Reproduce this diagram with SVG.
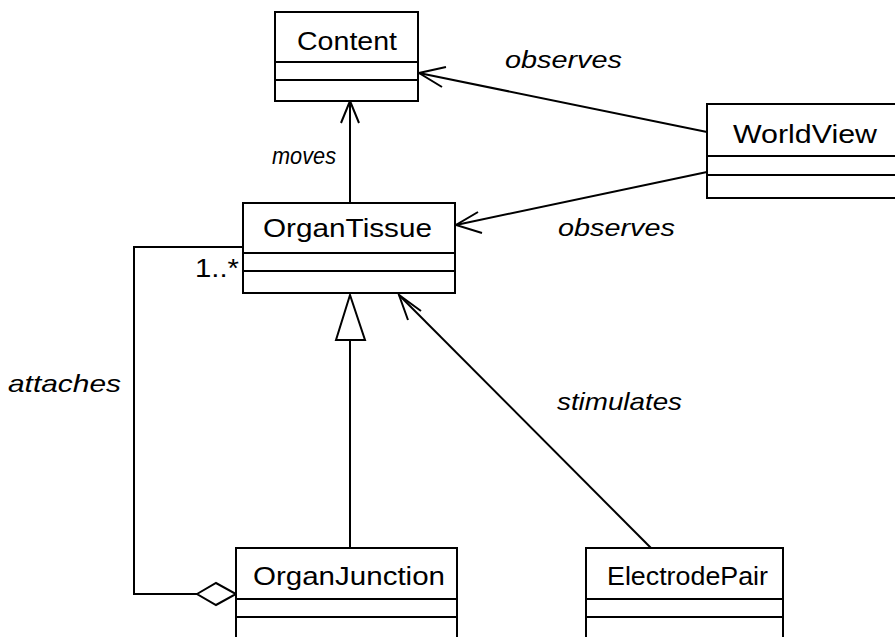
<svg xmlns="http://www.w3.org/2000/svg" width="895" height="637" viewBox="0 0 895 637">
  <style>
    .box { fill: #fff; stroke: #000; stroke-width: 2; }
    .div { stroke: #000; stroke-width: 2; }
    .name { font-family: "Liberation Sans", Arial, sans-serif; font-size: 25px; fill: #000; text-anchor: start; }
    .lbl { font-family: "Liberation Sans", Arial, sans-serif; font-size: 24px; font-style: italic; fill: #000; }
    .edge { fill: none; stroke: #000; stroke-width: 2; }
    .head { fill: none; stroke: #000; stroke-width: 2; stroke-linejoin: miter; }
  </style>
  <rect width="895" height="637" fill="#fff"/>

  <g id="connectors">
    <!-- OrganTissue moves Content -->
    <line class="edge" x1="350" y1="203" x2="350" y2="101"/>
    <polyline class="head" points="341,123 350,101 359,123"/>
    <!-- WorldView observes Content -->
    <line class="edge" x1="707" y1="132" x2="419" y2="73"/>
    <polyline class="head" points="446,67 419,73 442,87"/>
    <!-- WorldView observes OrganTissue -->
    <line class="edge" x1="707" y1="172" x2="456" y2="225"/>
    <polyline class="head" points="478,212 456,225 482,233"/>
    <!-- ElectrodePair stimulates OrganTissue -->
    <line class="edge" x1="651" y1="548" x2="399" y2="295"/>
    <polyline class="head" points="421,311 399,295 408,320"/>
    <!-- OrganJunction generalises OrganTissue -->
    <line class="edge" x1="350" y1="548" x2="350" y2="340"/>
    <polygon class="head" points="350,295 336,340 365,340" fill="#fff"/>
    <!-- OrganJunction aggregates OrganTissue -->
    <polyline class="edge" points="243,247 134,247 134,594 197,594"/>
    <polygon class="head" points="197,594 216,583 236,594 216,605" fill="#fff"/>
    <!-- labels -->
    <text class="lbl" x="505" y="68" textLength="117" lengthAdjust="spacingAndGlyphs">observes</text>
    <text class="lbl" x="558" y="236" textLength="117" lengthAdjust="spacingAndGlyphs">observes</text>
    <text class="lbl" x="272" y="164" textLength="64" lengthAdjust="spacingAndGlyphs">moves</text>
    <text class="lbl" x="8" y="392" textLength="113" lengthAdjust="spacingAndGlyphs">attaches</text>
    <text class="lbl" x="557" y="410" textLength="125" lengthAdjust="spacingAndGlyphs">stimulates</text>
    <text class="name" x="195" y="277" textLength="44" lengthAdjust="spacingAndGlyphs" font-size="24">1..*</text>
  </g>

  <g id="Content">
    <rect class="box" x="275" y="12" width="143" height="89"/>
    <line class="div" x1="275" y1="62" x2="418" y2="62"/>
    <line class="div" x1="275" y1="80" x2="418" y2="80"/>
    <text class="name" x="297" y="50" textLength="100" lengthAdjust="spacingAndGlyphs">Content</text>
  </g>

  <g id="WorldView">
    <rect class="box" x="707" y="104" width="200" height="94"/>
    <line class="div" x1="707" y1="156" x2="907" y2="156"/>
    <line class="div" x1="707" y1="175" x2="907" y2="175"/>
    <text class="name" x="733" y="143" textLength="144" lengthAdjust="spacingAndGlyphs">WorldView</text>
  </g>

  <g id="OrganTissue">
    <rect class="box" x="243" y="203" width="212" height="90"/>
    <line class="div" x1="243" y1="253" x2="455" y2="253"/>
    <line class="div" x1="243" y1="271" x2="455" y2="271"/>
    <text class="name" x="263" y="237" textLength="169" lengthAdjust="spacingAndGlyphs">OrganTissue</text>
  </g>

  <g id="OrganJunction">
    <rect class="box" x="236" y="548" width="221" height="100"/>
    <line class="div" x1="236" y1="599" x2="457" y2="599"/>
    <line class="div" x1="236" y1="617" x2="457" y2="617"/>
    <text class="name" x="253" y="585" textLength="192" lengthAdjust="spacingAndGlyphs">OrganJunction</text>
  </g>

  <g id="ElectrodePair">
    <rect class="box" x="586" y="548" width="197" height="100"/>
    <line class="div" x1="586" y1="599" x2="783" y2="599"/>
    <line class="div" x1="586" y1="617" x2="783" y2="617"/>
    <text class="name" x="607" y="585" textLength="161" lengthAdjust="spacingAndGlyphs">ElectrodePair</text>
  </g>
</svg>
